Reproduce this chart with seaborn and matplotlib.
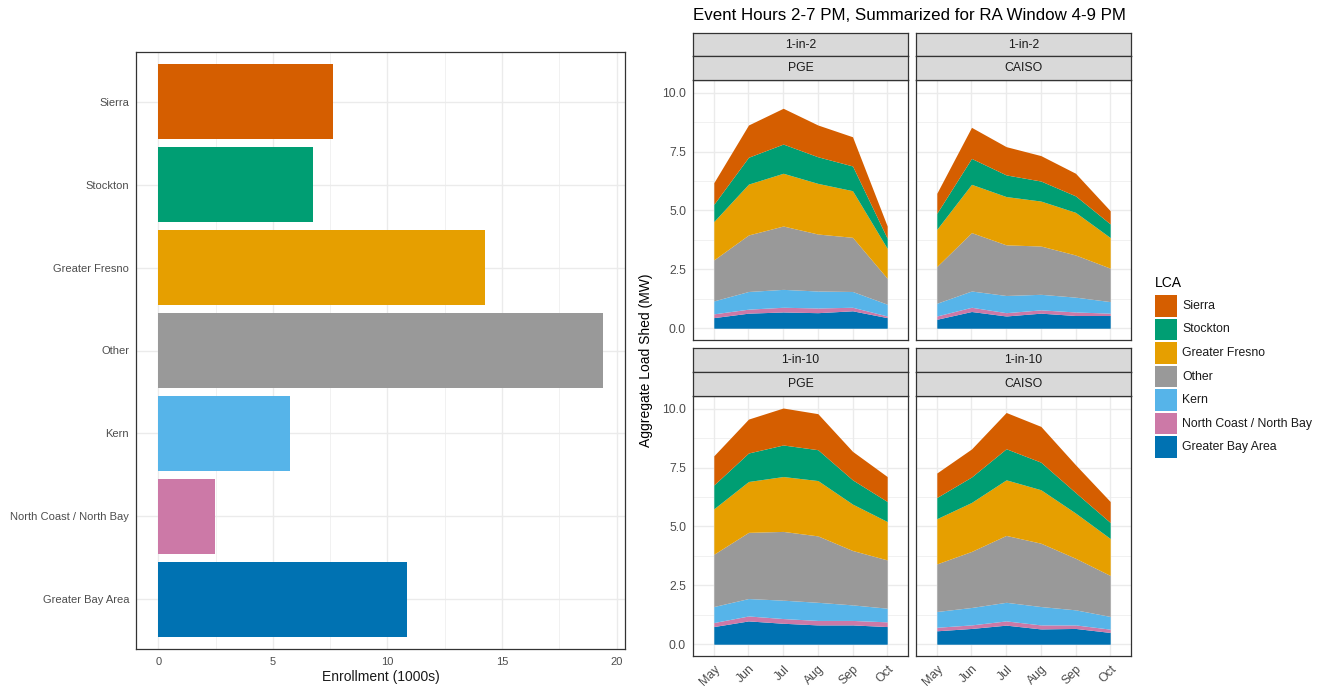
import numpy as np
import pandas as pd
import matplotlib
matplotlib.use("Agg")
import matplotlib.pyplot as plt
from matplotlib.patches import Rectangle
from matplotlib.ticker import MultipleLocator, FixedLocator
import seaborn as sns

sns.set_theme(style="white")
plt.rcParams["font.family"] = ["Liberation Sans", "DejaVu Sans"]

# ---- data ---------------------------------------------------------------
lca_order = ["Sierra", "Stockton", "Greater Fresno", "Other", "Kern",
             "North Coast / North Bay", "Greater Bay Area"]
lca_colors = ["#D55E00", "#009E73", "#E69F00", "#999999", "#56B4E9",
              "#CC79A7", "#0072B2"]
enrollment = [7.63, 6.75, 14.25, 19.4, 5.75, 2.48, 10.85]  # 1000s

months = ["May", "Jun", "Jul", "Aug", "Sep", "Oct"]

# load shed (MW) per LCA, listed in lca_order
pge_1in2 = [
    [0.92, 1.37, 1.52, 1.35, 1.24, 0.52],   # Sierra
    [0.73, 1.14, 1.24, 1.13, 1.05, 0.43],   # Stockton
    [1.63, 2.16, 2.24, 2.15, 1.98, 1.27],   # Greater Fresno
    [1.74, 2.40, 2.69, 2.42, 2.30, 1.10],   # Other
    [0.55, 0.75, 0.76, 0.72, 0.67, 0.50],   # Kern
    [0.16, 0.17, 0.20, 0.20, 0.15, 0.07],   # North Coast / North Bay
    [0.45, 0.64, 0.69, 0.66, 0.74, 0.45],   # Greater Bay Area
]
caiso_1in2 = [
    [0.85, 1.32, 1.20, 1.08, 0.96, 0.56],
    [0.68, 1.10, 0.92, 0.85, 0.70, 0.58],
    [1.58, 2.05, 2.05, 1.91, 1.81, 1.30],
    [1.56, 2.48, 2.15, 2.05, 1.79, 1.42],
    [0.54, 0.69, 0.73, 0.66, 0.63, 0.49],
    [0.14, 0.18, 0.14, 0.14, 0.15, 0.10],
    [0.38, 0.71, 0.52, 0.64, 0.54, 0.54],
]
pge_1in10 = [
    [1.24, 1.44, 1.57, 1.53, 1.21, 1.06],
    [1.01, 1.21, 1.34, 1.31, 1.03, 0.85],
    [1.93, 2.16, 2.33, 2.35, 1.97, 1.63],
    [2.22, 2.81, 2.92, 2.82, 2.31, 2.05],
    [0.68, 0.74, 0.78, 0.77, 0.66, 0.58],
    [0.17, 0.21, 0.20, 0.19, 0.19, 0.20],
    [0.75, 0.99, 0.89, 0.82, 0.82, 0.75],
]
caiso_1in10 = [
    [1.04, 1.19, 1.54, 1.52, 1.18, 0.89],
    [0.90, 1.08, 1.32, 1.17, 0.87, 0.68],
    [1.92, 2.08, 2.36, 2.27, 1.92, 1.57],
    [2.02, 2.38, 2.84, 2.69, 2.19, 1.74],
    [0.67, 0.74, 0.79, 0.78, 0.64, 0.54],
    [0.15, 0.15, 0.18, 0.17, 0.15, 0.14],
    [0.57, 0.67, 0.81, 0.65, 0.67, 0.50],
]

panels = [
    ("1-in-2", "PGE", pge_1in2),
    ("1-in-2", "CAISO", caiso_1in2),
    ("1-in-10", "PGE", pge_1in10),
    ("1-in-10", "CAISO", caiso_1in10),
]

# ---- styling ------------------------------------------------------------
W, H = 1321, 687
BORDER = "#333333"
GRID = "#EBEBEB"
TICKTXT = "#4D4D4D"
STRIP = "#D9D9D9"

fig = plt.figure(figsize=(W / 100, H / 100), dpi=100)


def px_axes(x0, y0, x1, y1):
    """Axes from pixel box (left, top, right, bottom)."""
    return fig.add_axes([x0 / W, 1 - y1 / H, (x1 - x0) / W, (y1 - y0) / H])


def style_frame(ax, size):
    for s in ax.spines.values():
        s.set_color(BORDER)
        s.set_linewidth(0.9)
    ax.tick_params(which="major", length=3, width=0.8, color=BORDER,
                   labelcolor=TICKTXT, labelsize=size, pad=2)
    ax.tick_params(which="minor", length=0)
    ax.grid(True, which="major", color=GRID, lw=1.0)
    ax.grid(True, which="minor", color=GRID, lw=0.5)
    ax.set_axisbelow(True)


# ---- enrollment bar chart ----------------------------------------------
bar_df = pd.DataFrame({"LCA": lca_order, "Enrollment": enrollment})
axb = px_axes(136, 52, 625, 649)
sns.barplot(data=bar_df, y="LCA", x="Enrollment", hue="LCA", order=lca_order,
            hue_order=lca_order, palette=lca_colors, saturation=1, width=0.9,
            legend=False, ax=axb, linewidth=0)
axb.set_xlim(-0.97, 20.37)
axb.set_ylim(6.6, -0.6)
axb.xaxis.set_major_locator(MultipleLocator(5))
axb.xaxis.set_minor_locator(MultipleLocator(2.5))
style_frame(axb, 8)
axb.tick_params(axis="x", pad=3)
axb.set_ylabel("")
axb.set_xlabel("")
fig.text(380.5 / W, 1 - 677 / H, "Enrollment (1000s)", ha="center",
         va="center", fontsize=10, color="#1A1A1A")

# ---- faceted stacked areas ---------------------------------------------
cols = [(693, 908), (916, 1131)]
rows = [(33, 56, 80, 340), (348, 372, 396, 656)]
x = np.arange(len(months))

for i, (scen, region, vals) in enumerate(panels):
    r, c = divmod(i, 2)
    x0, x1 = cols[c]
    s0, s1, p0, p1 = rows[r]

    ax = px_axes(x0, p0, x1, p1)
    layers = vals[::-1]  # stack from Greater Bay Area upward
    ax.stackplot(x, layers, colors=lca_colors[::-1], linewidth=0)
    ax.set_xlim(-0.6, 5.6)
    ax.set_ylim(-0.5, 10.54)
    ax.yaxis.set_major_locator(MultipleLocator(2.5))
    ax.yaxis.set_minor_locator(MultipleLocator(1.25))
    ax.xaxis.set_major_locator(FixedLocator(x))
    style_frame(ax, 8.8)
    ax.yaxis.set_major_formatter(lambda v, p: f"{v:.1f}")
    if c == 1:
        ax.tick_params(axis="y", length=0, labelleft=False)
    if r == 0:
        ax.tick_params(axis="x", length=0, labelbottom=False)
    else:
        ax.set_xticks(x)
        ax.set_xticklabels(months, rotation=45, ha="right", va="top",
                           rotation_mode="anchor")

    for (a, b), label in (((s0, s1), scen), ((s1, p0), region)):
        sx = px_axes(x0, a, x1, b)
        sx.set_facecolor(STRIP)
        sx.set_xticks([])
        sx.set_yticks([])
        for s in sx.spines.values():
            s.set_color(BORDER)
            s.set_linewidth(0.9)
        sx.text(0.5, 0.5, label, ha="center", va="center", fontsize=8.8,
                color="#1A1A1A", transform=sx.transAxes)

fig.text(693 / W, 1 - 15 / H,
         "Event Hours 2-7 PM, Summarized for RA Window 4-9 PM",
         ha="left", va="center", fontsize=12.2, color="black")
fig.text(646 / W, 1 - 360 / H, "Aggregate Load Shed (MW)", rotation=90,
         ha="center", va="center", fontsize=10, color="black")

# ---- legend -------------------------------------------------------------
fig.text(1155 / W, 1 - 283 / H, "LCA", ha="left", va="center",
         fontsize=10, color="black")
for k, (name, col) in enumerate(zip(lca_order, lca_colors)):
    top = 295 + k * 23.5
    fig.add_artist(Rectangle((1155 / W, 1 - (top + 21.5) / H), 22 / W,
                             21.5 / H, transform=fig.transFigure,
                             facecolor=col, edgecolor="none"))
    fig.text(1182 / W, 1 - (top + 11) / H, name, ha="left", va="center",
             fontsize=8.8, color="#1A1A1A")

fig.savefig("out.png", dpi=100)
